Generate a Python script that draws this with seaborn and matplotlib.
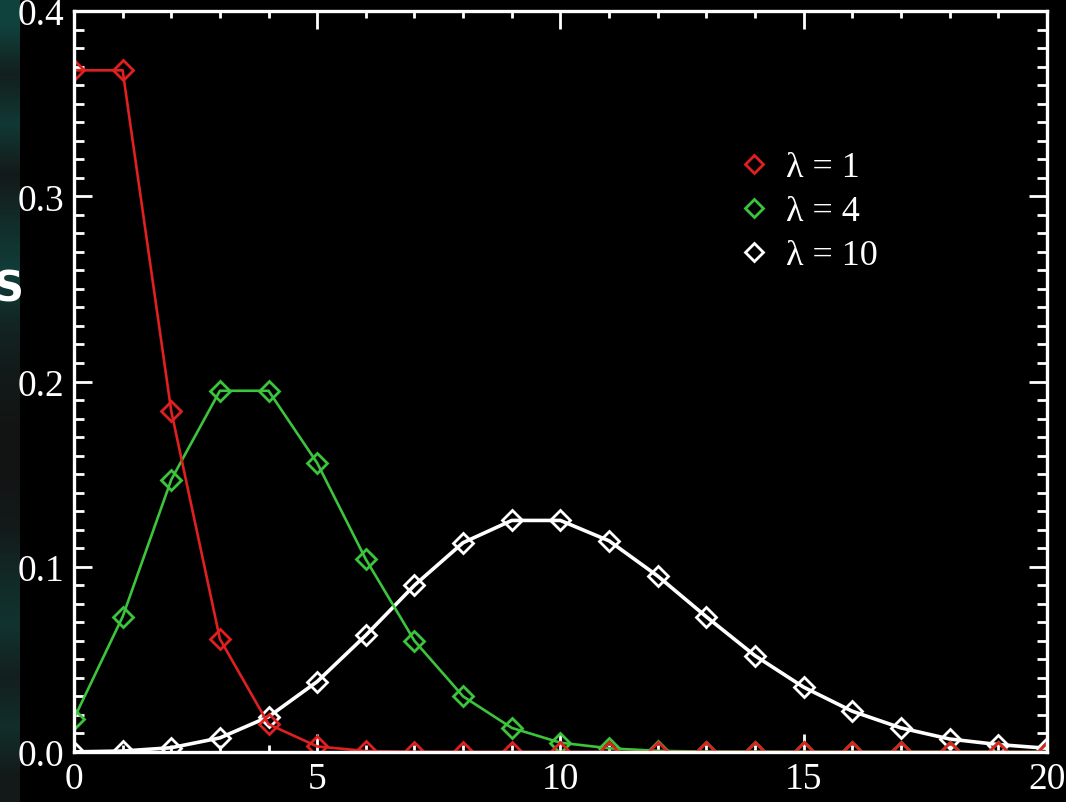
import numpy as np
import matplotlib
matplotlib.use("Agg")
import matplotlib.pyplot as plt
from matplotlib.lines import Line2D
from matplotlib.ticker import MultipleLocator, FormatStrFormatter
import seaborn as sns

sns.set_style("dark")
plt.rcParams["font.family"] = ["Liberation Serif", "DejaVu Serif"]

k = list(range(21))
p_lam1 = [0.368, 0.368, 0.184, 0.061, 0.015, 0.003, 0.0005, 0.0001, 0.0, 0.0, 0.0,
          0.0, 0.0, 0.0, 0.0, 0.0, 0.0, 0.0, 0.0, 0.0, 0.0]
p_lam4 = [0.018, 0.073, 0.147, 0.195, 0.195, 0.156, 0.104, 0.060, 0.030, 0.013, 0.005,
          0.002, 0.0006, 0.0002, 0.0001, 0.0, 0.0, 0.0, 0.0, 0.0, 0.0]
p_lam10 = [0.00005, 0.0005, 0.0023, 0.0076, 0.019, 0.038, 0.063, 0.090, 0.113, 0.125, 0.125,
           0.114, 0.095, 0.073, 0.052, 0.035, 0.022, 0.013, 0.007, 0.004, 0.002]
labels = ["λ = 1", "λ = 4", "λ = 10"]
colors = ["#e02020", "#3cc43c", "#ffffff"]

fig = plt.figure(figsize=(10.66, 8.03), dpi=100, facecolor="black")

# slide background strip on the left (faint teal streaks)
strip = fig.add_axes([0, 0, 0.018, 1])
shade = np.array([[0.9], [0.2], [0.7], [0.1], [0.5], [0.8], [0.3], [0.1],
                  [0.0], [0.0], [0.1], [0.4], [0.6], [0.2], [0.5], [0.1]])
strip.imshow(shade, aspect="auto", cmap=sns.dark_palette("#1f7a70", as_cmap=True),
             extent=[0, 1, 0, 1], alpha=0.55, interpolation="bilinear")
strip.axis("off")
fig.text(-0.006, 0.64, "S", color="white", fontsize=30, fontweight="bold",
         family="DejaVu Sans", va="center", ha="left")

ax = fig.add_axes([0.0694, 0.0623, 0.9126, 0.9227])
ax.set_facecolor("black")

series = [(p_lam10, colors[2], 2.6), (p_lam4, colors[1], 1.9), (p_lam1, colors[0], 1.9)]
for vals, c, lw in series:
    sns.lineplot(x=k, y=vals, ax=ax, color=c, linewidth=lw, marker="D",
                 markersize=10.5, markerfacecolor="none", markeredgecolor=c,
                 markeredgewidth=2.0, legend=False)

ax.set_xlim(0, 20)
ax.set_ylim(0, 0.4)
ax.xaxis.set_major_locator(MultipleLocator(5))
ax.xaxis.set_minor_locator(MultipleLocator(1))
ax.yaxis.set_major_locator(MultipleLocator(0.1))
ax.yaxis.set_minor_locator(MultipleLocator(0.01))
ax.yaxis.set_major_formatter(FormatStrFormatter("%.1f"))

for s in ax.spines.values():
    s.set_color("white")
    s.set_linewidth(2.4)
    s.set_visible(True)

ax.tick_params(which="both", direction="in", colors="white", top=True, right=True,
               bottom=True, left=True, labelsize=27, width=2.0)
ax.tick_params(which="major", length=13)
ax.tick_params(axis="y", which="minor", length=7)
ax.tick_params(axis="x", which="minor", length=5)
ax.tick_params(axis="x", pad=7)
ax.tick_params(axis="y", pad=7)
ax.grid(False)

handles = [Line2D([], [], linestyle="none", marker="D", markersize=9,
                  markerfacecolor="none", markeredgecolor=c, markeredgewidth=2.0)
           for c in colors]
leg = ax.legend(handles, labels, loc="upper left", bbox_to_anchor=(0.647, 0.855),
                frameon=False, fontsize=26, handletextpad=0.4, labelspacing=0.3,
                handlelength=1.0, labelcolor="white")

fig.savefig("out.png", dpi=100, facecolor="black")
